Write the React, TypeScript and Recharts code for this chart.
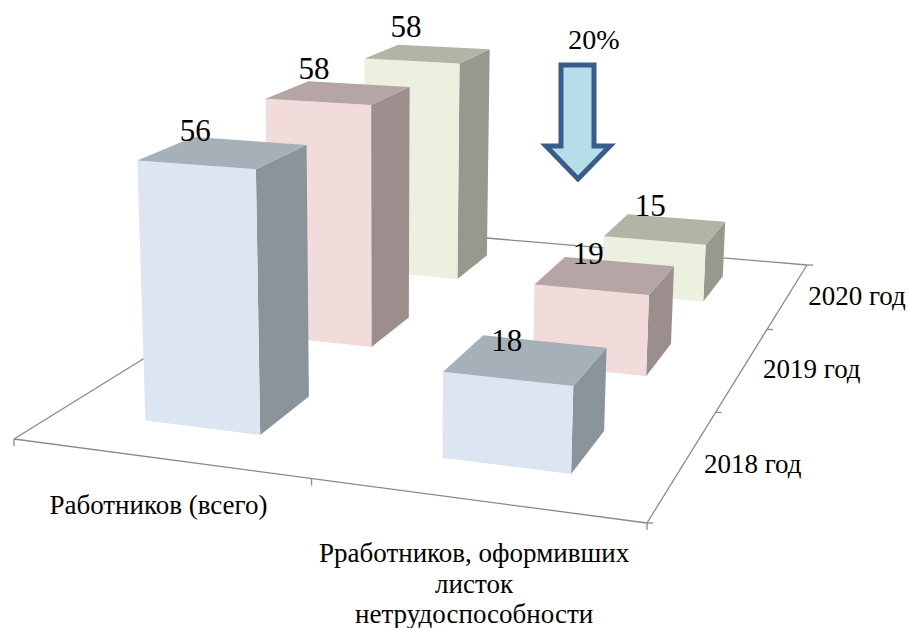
import React from 'react';
import { BarChart, Bar, XAxis, YAxis, LabelList, Customized } from 'recharts';

const CATEGORIES = ['Работников (всего)', 'Рработников, оформивших листок нетрудоспособности'];
const CATEGORY_LINES = [['Работников (всего)'], ['Рработников, оформивших', 'листок', 'нетрудоспособности']];
const YEARS = ['2018 год', '2019 год', '2020 год'];
const VALUES_2018 = [56, 18];
const VALUES_2019 = [58, 19];
const VALUES_2020 = [58, 15];

const data = CATEGORIES.map((name, i) => ({
  name,
  y2018: VALUES_2018[i],
  y2019: VALUES_2019[i],
  y2020: VALUES_2020[i],
}));

const WIDTH = 909;
const HEIGHT = 628;
const PLOT = { left: 100, top: 100, width: 600, height: 300 };
const AXIS_HEIGHT = 20;
const FONT = '"Liberation Serif", "Times New Roman", serif';
const AXIS_COLOR = '#8a8a8a';

const FACES = [
  { key: 'y2018', front: '#dce6f2', top: '#a6b0b9', side: '#8b939b' },
  { key: 'y2019', front: '#f2dcdb', top: '#b5a5a4', side: '#9c8e8d' },
  { key: 'y2020', front: '#ebf1de', top: '#b0b5a6', side: '#969a8e' },
];

// floor corners on screen; the flat chart is mapped onto this quad
const P00 = [14, 439];
const P10 = [647, 523];
const P11 = [807, 265];
const P01 = [356, 227];
const VANISH = [380, 8000];
const LIFT = -0.0365;
const BAR_DEPTH = 0.135;
const BAR_NUDGE = 0.003;
const LABEL_RISE = [6.5, 9, 12];

const det = (a: number[], b: number[]) => a[0] * b[1] - a[1] * b[0];
const dx1 = [P10[0] - P11[0], P10[1] - P11[1]];
const dx2 = [P01[0] - P11[0], P01[1] - P11[1]];
const sum = [P00[0] - P10[0] + P11[0] - P01[0], P00[1] - P10[1] + P11[1] - P01[1]];
const G = det(sum, dx2) / det(dx1, dx2);
const H = det(dx1, sum) / det(dx1, dx2);

const project = (u: number, v: number, z = 0): [number, number] => {
  const w = 1 + G * u + H * v + z * LIFT;
  const px = (P10[0] - P00[0] + G * P10[0]) * u + (P01[0] - P00[0] + H * P01[0]) * v + P00[0];
  const py = (P10[1] - P00[1] + G * P10[1]) * u + (P01[1] - P00[1] + H * P01[1]) * v + P00[1];
  return [(px + z * LIFT * VANISH[0]) / w, (py + z * LIFT * VANISH[1]) / w];
};

const pts = (list: [number, number][]) => list.map((p) => p.map((n) => n.toFixed(1)).join(',')).join(' ');

const toU = (x: number) => (x - PLOT.left) / PLOT.width;
const toZ = (h: number) => h / PLOT.height;

const Box3D = ({ x, width, height, series }: any) => {
  const u0 = toU(x) + BAR_NUDGE;
  const u1 = toU(x + width) + BAR_NUDGE;
  const z = toZ(height);
  const vc = (series + 0.5) / 3;
  const v0 = vc - BAR_DEPTH / 2;
  const v1 = vc + BAR_DEPTH / 2;
  const f = FACES[series];
  return (
    <g>
      <polygon fill={f.side} points={pts([project(u1, v0, 0), project(u1, v1, 0), project(u1, v1, z), project(u1, v0, z)])} />
      <polygon fill={f.front} points={pts([project(u0, v0, 0), project(u1, v0, 0), project(u1, v0, z), project(u0, v0, z)])} />
      <polygon fill={f.top} points={pts([project(u0, v0, z), project(u1, v0, z), project(u1, v1, z), project(u0, v1, z)])} />
    </g>
  );
};

const BoxLabel = ({ x, width, height, value, series }: any) => {
  const uc = toU(x + width / 2);
  const z = toZ(height);
  const [lx, ly] = project(uc, (series + 0.5) / 3, z);
  // labels drift sideways with the bar's place on the floor
  const tx = 1.029 * lx - 33;
  const ty = ly - LABEL_RISE[series] - 5 * z;
  return (
    <text x={tx} y={ty} textAnchor="middle" fontFamily={FONT} fontSize={31} fill="#000">
      {value}
    </text>
  );
};

const CategoryTick = ({ x, index }: any) => {
  const [fx, fy] = project(toU(x), 0, 0);
  const lines = CATEGORY_LINES[index];
  const dy = index === 0 ? 56 : 62;
  return (
    <text textAnchor="middle" fontFamily={FONT} fontSize={27} fill="#000">
      {lines.map((line, i) => (
        <tspan key={line} x={fx} y={fy + dy + i * 30.5}>
          {line}
        </tspan>
      ))}
    </text>
  );
};

const Floor = () => {
  const line = (a: [number, number], b: [number, number], key: string) => (
    <line key={key} x1={a[0]} y1={a[1]} x2={b[0]} y2={b[1]} stroke={AXIS_COLOR} strokeWidth={1.3} />
  );
  const corners = [project(0, 0), project(1, 0), project(1, 1), project(0, 1)];
  return (
    <g>
      {corners.map((c, i) => line(c, corners[(i + 1) % 4], `edge${i}`))}
      {[0, 0.5, 1].map((u) => {
        const p = project(u, 0);
        return line(p, [p[0], p[1] + 7], `xt${u}`);
      })}
      {[0, 1, 2, 3].map((i) => {
        const p = project(1, i / 3);
        return line(p, [p[0] + 6, p[1]], `yt${i}`);
      })}
    </g>
  );
};

const YearLabels = () => (
  <g>
    {YEARS.map((year, i) => {
      const [x, y] = project(1, (i + 0.5) / 3);
      return (
        <text key={year} x={x + 20} y={y + 10} fontFamily={FONT} fontSize={27} fill="#000">
          {year}
        </text>
      );
    })}
  </g>
);

const DropArrow = () => (
  <g>
    <polygon
      points="561,65 594,65 594,146 610,146 578,179 546,146 561,146"
      fill="#b7dee8"
      stroke="#385d8a"
      strokeWidth={5}
    />
    <text x={594} y={49} textAnchor="middle" fontFamily={FONT} fontSize={28} fill="#000">
      20%
    </text>
  </g>
);

export default function App() {
  return (
    <div style={{ position: 'absolute', left: 0, top: 0, width: WIDTH, height: HEIGHT, background: '#fff' }}>
      <BarChart
        width={WIDTH}
        height={HEIGHT}
        data={data}
        barSize={PLOT.width * 0.2}
        barGap={-PLOT.width * 0.2}
        margin={{
          left: PLOT.left,
          top: PLOT.top,
          right: WIDTH - PLOT.left - PLOT.width,
          bottom: HEIGHT - PLOT.top - PLOT.height - AXIS_HEIGHT,
        }}
      >
        <Customized component={Floor} />
        <XAxis dataKey="name" height={AXIS_HEIGHT} interval={0} axisLine={false} tickLine={false} tick={CategoryTick} />
        <YAxis hide domain={[0, 60]} />
        {[2, 1, 0].map((series) => (
          <Bar
            key={FACES[series].key}
            dataKey={FACES[series].key}
            isAnimationActive={false}
            shape={(p: any) => <Box3D {...p} series={series} />}
          >
            <LabelList
              dataKey={FACES[series].key}
              content={(p: any) => <BoxLabel {...p} series={series} />}
            />
          </Bar>
        ))}
        <Customized component={YearLabels} />
        <Customized component={DropArrow} />
      </BarChart>
    </div>
  );
}
